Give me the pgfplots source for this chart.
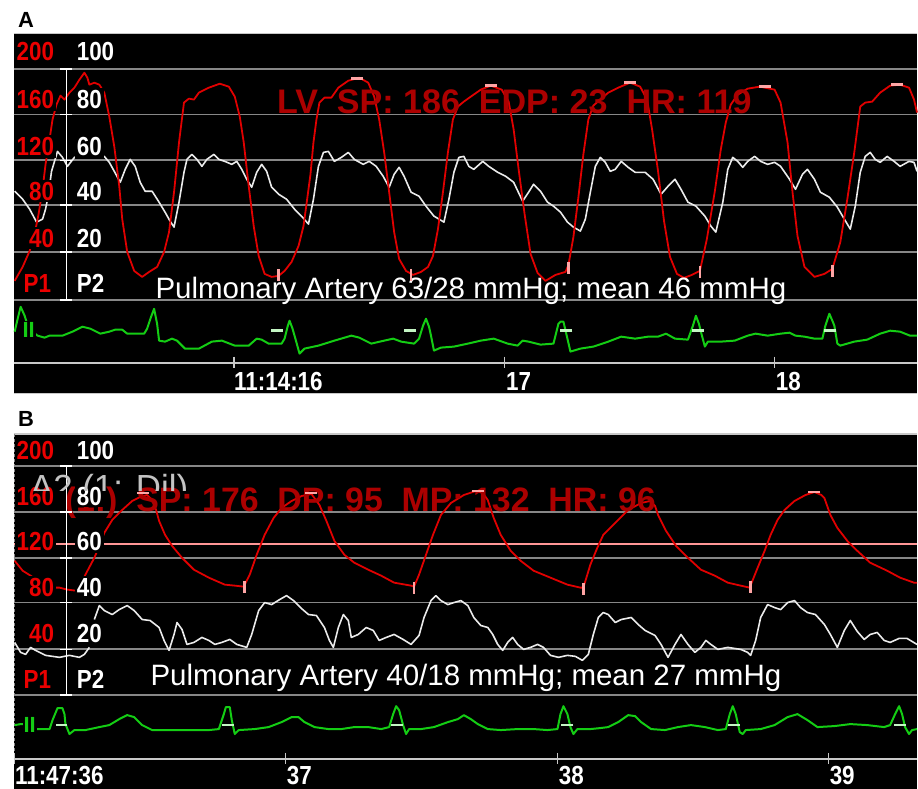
\documentclass[border=0pt]{standalone}
\usepackage{graphicx}
\usepackage{pgfplots}
\pgfplotsset{compat=1.18}
\usepackage{fontspec}
\setmainfont{Liberation Sans}
\definecolor{trred}{RGB}{225,0,0}
\definecolor{lblred}{RGB}{235,0,0}
\definecolor{txtred}{RGB}{172,0,0}
\definecolor{pinkm}{RGB}{255,165,165}
\definecolor{pinkline}{RGB}{255,150,150}
\definecolor{trwhite}{RGB}{235,235,235}
\definecolor{ecg}{RGB}{20,205,20}
\definecolor{ecgm}{RGB}{195,245,195}
\definecolor{gridgray}{RGB}{135,135,135}
\definecolor{axgray}{RGB}{200,200,200}
\definecolor{ghost}{RGB}{195,195,195}
\newcommand\lblfont{\fontsize{12.5}{13}\selectfont\bfseries}
\newcommand\lab[1]{\scalebox{0.9}[1.05]{#1}}
\pgfplotsset{mon/.style={
  scale only axis, width=453.5pt, xmin=11, xmax=918, y dir=reverse,
  axis background/.style={fill=black},
  axis line style={draw=none},
  xtick=\empty, yticklabels={}, major tick length=0pt,
  ytick style={draw=none},
  ymajorgrids, grid style={line width=0.9pt, color=gridgray},
  clip=false, anchor=north west}}
\begin{document}
\begin{tikzpicture}
\fill[white] (0,0) rectangle (459pt,-396pt);
\node[anchor=base west, inner sep=0, font=\fontsize{11}{12}\selectfont\bfseries] at (7.5pt,-14pt) {A};
\node[anchor=base west, inner sep=0, font=\fontsize{11}{12}\selectfont\bfseries] at (7.5pt,-214pt) {B};
% ================= PANEL A =================
\begin{axis}[mon, at={(5.5pt,-16.5pt)}, height=181pt, ymin=33, ymax=395,
  ytick={69,115,161,206,253,301}]
\draw[axgray, line width=0.8pt] (axis cs:11,33.5) -- (axis cs:918,33.5);
\draw[axgray, line width=0.8pt] (axis cs:11,395) -- (axis cs:918,395);
% time axis
\draw[axgray, line width=1pt] (axis cs:11,364) -- (axis cs:918,364);
\draw[axgray, line width=0.8pt] (axis cs:232,358) -- (axis cs:232,369);
\draw[axgray, line width=0.8pt] (axis cs:504,358) -- (axis cs:504,369);
\draw[axgray, line width=0.8pt] (axis cs:775,358) -- (axis cs:775,369);
% P2 (pulmonary artery), white
\addplot[trwhite, line width=0.8pt, line join=round] coordinates {
(12,192) (20,200) (27,210) (34,223) (40,220) (43,210) (46,195) (49,172) (52,162) (55,152) (60,158) (65,167) (72,158) (80,155) (90,155) (97,156)
(102,157) (107,163) (112,172) (118,183) (123,170) (128,160) (133,167) (138,183) (143,192) (150,192) (157,203) (163,213) (168,222) (172,228)
(177,203) (182,173) (185,160) (190,155) (195,160) (200,167) (205,160) (212,155) (217,160) (223,162) (230,165) (235,162) (240,170) (245,180)
(250,188) (255,173) (260,165) (265,172) (270,188) (277,195) (285,200) (293,210) (300,217) (307,225) (312,200) (317,167) (322,153) (327,152)
(333,162) (340,158) (347,153) (353,160) (362,165) (368,162) (375,167) (382,177) (388,188) (393,175) (398,168) (403,177) (410,193) (418,197)
(425,207) (433,217) (443,223) (448,200) (453,173) (458,158) (463,157) (468,167) (473,170) (482,162) (488,167) (497,173) (505,177) (513,183)
(522,202) (528,193) (533,185) (540,192) (547,203) (553,207) (560,213) (567,223) (573,228) (580,232) (585,220) (590,193) (595,167) (600,158)
(605,163) (610,172) (615,170) (621,162) (628,168) (635,173) (645,173) (653,180) (661,195) (668,187) (675,180) (681,190) (688,203) (696,207)
(705,217) (711,227) (716,233) (723,203) (728,170) (733,158) (738,162) (743,168) (748,162) (755,157) (761,162) (768,165) (775,163) (781,167)
(790,180) (796,190) (803,175) (808,170) (815,180) (821,193) (830,198) (838,208) (845,220) (851,230) (856,207) (861,173) (866,157) (871,153)
(876,160) (881,163) (888,157) (895,162) (901,167) (910,162) (915,163) (918,172)};
% P1 (left ventricle), red
\addplot[trred, line width=0.9pt, line join=round] coordinates {
(12,282) (20,268) (27,252) (32,235) (36,215) (40,190) (43,165) (47,140) (50,120) (54,105) (58,96) (62,100) (67,93) (72,88) (77,80) (82,73)
(85,78) (87,85) (92,83) (97,85) (102,93) (107,117) (112,147) (117,187) (120,220) (125,253) (132,272) (140,278) (147,273) (155,268) (162,253)
(167,233) (172,193) (177,143) (182,103) (187,99) (192,100) (197,93) (207,88) (218,84) (227,87) (233,97) (238,117) (242,143) (247,187)
(252,227) (257,257) (263,275) (270,278) (277,277) (283,272) (290,263) (297,247) (302,227) (305,205) (309,175) (312,143) (315,120) (318,103)
(323,98) (330,98) (337,88) (347,81) (358,78) (367,83) (373,97) (378,120) (383,153) (388,193) (393,233) (398,260) (405,272) (412,276)
(420,273) (427,268) (432,257) (437,230) (442,193) (447,153) (452,120) (457,107) (463,102) (470,97) (480,90) (490,86) (501,90) (508,102)
(513,130) (518,170) (524,215) (530,255) (537,274) (545,282) (555,276) (565,273) (568,266) (573,238) (578,198) (583,155) (588,120) (593,106)
(600,100) (608,93) (618,88) (630,83) (640,87) (647,100) (652,130) (658,172) (664,222) (670,258) (677,275) (684,279) (692,276) (700,272)
(707,240) (715,192) (721,150) (726,123) (731,105) (738,95) (748,89) (760,87) (775,90) (781,103) (788,143) (793,193) (798,237) (805,268)
(815,278) (825,275) (833,270) (841,243) (848,200) (855,153) (861,107) (866,103) (873,102) (881,93) (891,86) (901,85) (910,88) (915,100) (918,113)};
% ECG lead II
\addplot[ecg, line width=1pt, line join=round] coordinates {
(12,333) (15,320) (18,308) (22,317) (26,330) (35,337) (42,339) (47,337) (60,337) (70,333) (80,328) (88,330) (98,335) (107,333) (113,331)
(120,331) (125,335) (142,335) (145,330) (149,318) (152,310) (155,325) (157,342) (163,343) (170,340) (175,342) (183,350) (197,350) (210,343)
(220,342) (233,347) (247,347) (255,340) (260,341) (267,345) (280,345) (283,340) (286,328) (288,322) (291,330) (293,337) (298,355) (303,350)
(317,347) (333,342) (350,337) (358,339) (370,345) (383,342) (392,340) (400,343) (413,345) (418,340) (422,327) (425,320) (428,328) (430,337)
(433,352) (440,349) (453,348) (467,345) (480,342) (493,340) (507,345) (517,347) (522,342) (528,343) (540,346) (553,345) (558,325) (560,323)
(563,323) (567,340) (570,353) (580,350) (593,348) (608,343) (621,338) (635,340) (648,338) (658,338) (666,335) (675,340) (688,341) (693,327)
(696,317) (699,325) (701,333) (705,348) (708,343) (721,343) (735,342) (748,337) (756,335) (768,337) (781,335) (790,334) (796,337) (805,338)
(815,340) (823,340) (826,327) (830,315) (833,322) (835,327) (838,345) (841,347) (855,343) (868,341) (881,335) (891,332) (901,333) (911,337) (918,337)};
% markers
\addplot[only marks, mark=-, mark size=3pt, pinkm, mark options={line width=1.4pt}] coordinates {(356,79) (490,86) (630,83) (765,87) (898,85)};
\addplot[only marks, mark=|, mark size=3pt, pinkm, mark options={line width=1.4pt}] coordinates {(277,276) (410,276) (568,269) (700,273) (833,272)};
\addplot[only marks, mark=-, mark size=3pt, ecgm, mark options={line width=1.3pt}] coordinates {(275,332) (409,332) (566,332) (698,332) (831,332)};
% texts
\node[anchor=base west, inner sep=0, text=txtred, font=\fontsize{17.1}{18}\selectfont\bfseries] at (axis cs:275,114) {LV\ \ SP: 186\ \ EDP: 23\ \ HR: 119};
\node[anchor=base west, inner sep=0, text=white, font=\fontsize{14.8}{15}\selectfont] at (axis cs:153,300) {Pulmonary Artery 63/28 mmHg; mean 46 mmHg};
% scale labels
\node[anchor=east, fill=black, inner sep=1pt, text=lblred, font=\lblfont] at (axis cs:54,52) {\lab{200}};
\node[anchor=east, fill=black, inner sep=1pt, text=lblred, font=\lblfont] at (axis cs:54,100) {\lab{160}};
\node[anchor=east, fill=black, inner sep=1pt, text=lblred, font=\lblfont] at (axis cs:54,147) {\lab{120}};
\node[anchor=east, fill=black, inner sep=1pt, text=lblred, font=\lblfont] at (axis cs:54,192) {\lab{80}};
\node[anchor=east, fill=black, inner sep=1pt, text=lblred, font=\lblfont] at (axis cs:54,239) {\lab{40}};
\node[anchor=east, fill=black, inner sep=1pt, text=lblred, font=\lblfont] at (axis cs:51,285) {\lab{P1}};
\node[anchor=west, fill=black, inner sep=1pt, text=white, font=\lblfont] at (axis cs:72,52) {\lab{100}};
\node[anchor=west, fill=black, inner sep=1pt, text=white, font=\lblfont] at (axis cs:72,100) {\lab{80}};
\node[anchor=west, fill=black, inner sep=1pt, text=white, font=\lblfont] at (axis cs:72,147) {\lab{60}};
\node[anchor=west, fill=black, inner sep=1pt, text=white, font=\lblfont] at (axis cs:72,192) {\lab{40}};
\node[anchor=west, fill=black, inner sep=1pt, text=white, font=\lblfont] at (axis cs:72,239) {\lab{20}};
\node[anchor=west, fill=black, inner sep=1pt, text=white, font=\lblfont] at (axis cs:72,285) {\lab{P2}};
\node[fill=black, inner sep=0.5pt, text=ecg, font=\fontsize{11}{12}\selectfont\bfseries] at (axis cs:26,331) {II};
% scale bar
\draw[white, line width=0.8pt] (axis cs:64,69) -- (axis cs:64,301);
\draw[white, line width=0.8pt] (axis cs:58,69) -- (axis cs:70,69);
\draw[white, line width=0.8pt] (axis cs:58,115) -- (axis cs:70,115);
\draw[white, line width=0.8pt] (axis cs:58,161) -- (axis cs:70,161);
\draw[white, line width=0.8pt] (axis cs:58,206) -- (axis cs:70,206);
\draw[white, line width=0.8pt] (axis cs:58,253) -- (axis cs:70,253);
\draw[white, line width=0.8pt] (axis cs:58,301) -- (axis cs:70,301);
% time labels
\node[anchor=base west, inner sep=0, text=white, font=\lblfont] at (axis cs:232,392) {\lab{11:14:16}};
\node[anchor=base west, inner sep=0, text=white, font=\lblfont] at (axis cs:505,392) {\lab{17}};
\node[anchor=base west, inner sep=0, text=white, font=\lblfont] at (axis cs:776,392) {\lab{18}};
\end{axis}
% ================= PANEL B =================
\begin{axis}[mon, at={(5.5pt,-217.5pt)}, height=178.5pt, ymin=435, ymax=792,
  ytick={468,514,560,605,652,698}]
\draw[axgray, line width=0.8pt] (axis cs:11,435.5) -- (axis cs:918,435.5);
\draw[gridgray, line width=0.7pt, dash pattern=on 1.5pt off 1pt] (axis cs:12,436) -- (axis cs:12,762);
\draw[pinkline, line width=0.9pt] (axis cs:11,546) -- (axis cs:918,546);
% time axis
\draw[axgray, line width=1pt] (axis cs:11,762) -- (axis cs:918,762);
\draw[axgray, line width=0.8pt] (axis cs:12,756) -- (axis cs:12,767);
\draw[axgray, line width=0.8pt] (axis cs:284,756) -- (axis cs:284,767);
\draw[axgray, line width=0.8pt] (axis cs:557,756) -- (axis cs:557,767);
\draw[axgray, line width=0.8pt] (axis cs:829,756) -- (axis cs:829,767);
% P2 white
\addplot[trwhite, line width=0.8pt, line join=round] coordinates {
(12,645) (18,655) (23,657) (28,650) (33,653) (43,658) (57,660) (67,658) (77,660) (82,657) (87,650)};
\addplot[trwhite, line width=0.8pt, line join=round] coordinates {
(92,622) (97,608) (102,613) (110,617) (117,612) (125,608) (132,613) (140,622) (148,623) (157,630) (162,643) (167,653) (172,637) (175,625)
(180,632) (185,647) (192,645) (200,640) (207,643) (213,647) (220,645) (228,642) (235,647) (245,650) (250,637) (257,613) (263,605) (270,607)
(278,602) (285,598) (292,603) (300,611) (307,617) (315,618) (323,630) (328,643) (332,650) (337,630) (342,617) (347,623) (350,640) (357,637)
(365,630) (372,633) (378,643) (385,640) (393,637) (402,642) (410,647) (418,638) (423,620) (430,603) (435,598) (440,603) (447,607) (453,605)
(460,603) (467,608) (473,620) (480,628) (487,630) (492,637) (497,647) (502,653) (507,645) (512,640) (517,647) (523,652) (530,650) (537,647)
(543,650) (550,658) (558,660) (567,658) (575,659) (582,663) (588,657) (593,637) (598,620) (603,615) (608,617) (615,625) (621,622) (631,620)
(638,627) (645,633) (655,638) (661,647) (668,660) (675,647) (681,637) (688,647) (695,655) (701,650) (706,643) (711,647) (718,652) (728,650)
(741,652) (748,655) (751,658) (756,643) (761,620) (768,607) (775,610) (781,612) (788,605) (795,603) (801,610) (808,615) (816,617) (825,627)
(831,637) (838,650) (845,633) (851,623) (858,634) (865,642) (871,637) (878,635) (885,643) (891,645) (900,641) (908,641) (918,647)};
% P1 red (aortic)
\addplot[trred, line width=0.9pt, line join=round] coordinates {
(12,563) (20,573) (28,578) (40,586) (50,590) (57,590) (65,592) (73,593) (78,588) (83,577) (92,560) (97,548) (102,535) (110,522) (120,512)
(130,503) (138,499) (145,497) (150,502) (154,512) (157,523) (163,537) (170,548) (180,560) (192,572) (207,580) (223,587) (233,588) (242,589)
(248,577) (255,557) (263,537) (272,520) (280,510) (290,503) (300,498) (310,496) (318,507) (325,523) (333,543) (343,557) (353,565) (367,572)
(380,578) (393,585) (410,588) (413,589) (418,577) (425,557) (432,537) (440,517) (450,505) (463,497) (475,493) (482,495) (487,502) (493,520)
(500,537) (510,553) (520,563) (533,573) (550,580) (567,587) (580,590) (583,590) (590,567) (597,550) (603,537) (610,530) (618,522) (628,512)
(641,505) (650,503) (655,508) (658,517) (666,533) (676,548) (688,560) (701,572) (715,578) (728,585) (741,588) (750,590) (758,570) (765,553)
(771,537) (778,522) (785,512) (795,503) (806,497) (815,494) (822,497) (825,500) (831,517) (838,530) (848,543) (858,553) (871,565) (888,573)
(901,580) (915,585) (918,585)};
% ECG
\addplot[ecg, line width=1pt, line join=round] coordinates {
(12,728) (18,727) (22,727) (33,732) (47,732) (50,723) (55,711) (60,711) (62,717) (63,727) (67,737) (72,733) (83,733) (97,730) (107,728)
(117,722) (125,718) (132,720) (140,728) (150,733) (167,733) (183,733) (207,733) (217,732) (222,717) (224,710) (228,710) (230,723) (233,737)
(237,733) (253,732) (267,730) (280,725) (290,720) (297,720) (303,725) (313,730) (327,732) (340,732) (353,730) (367,730) (380,732) (388,730)
(392,717) (395,709) (398,713) (402,728) (405,737) (408,732) (420,732) (433,730) (447,725) (457,722) (463,718) (470,722) (477,727) (487,732)
(500,733) (517,732) (533,732) (547,733) (557,732) (560,717) (563,709) (567,717) (570,730) (573,737) (577,732) (590,732) (600,731) (608,730)
(618,725) (628,718) (635,719) (641,725) (651,732) (665,733) (678,730) (691,728) (705,730) (718,733) (726,732) (730,717) (733,709) (736,717)
(740,735) (743,737) (746,733) (761,732) (775,728) (788,720) (798,717) (808,723) (818,730) (835,729) (851,727) (868,728) (885,730) (891,728)
(896,717) (900,709) (903,717) (906,730) (910,737) (913,733) (918,732)};
% markers
\addplot[only marks, mark=-, mark size=3pt, pinkm, mark options={line width=1.4pt}] coordinates {(141,495) (310,495) (477,493) (815,494)};
\addplot[only marks, mark=|, mark size=3pt, pinkm, mark options={line width=1.4pt}] coordinates {(243,589) (413,590) (583,591) (751,589)};
\addplot[only marks, mark=-, mark size=3pt, ecgm, mark options={line width=1.3pt}] coordinates {(59,728) (226,728) (396,728) (567,728) (734,728) (901,728)};
% texts
\node[anchor=base west, inner sep=0, text=txtred, font=\fontsize{17}{18}\selectfont\bfseries] at (axis cs:62,514) {(1:)\ \ SP: 176\ \ DP: 95\ \ MP: 132\ \ HR: 96};
\node[anchor=base west, inner sep=0, text=white, font=\fontsize{14.8}{15}\selectfont] at (axis cs:148,688) {Pulmonary Artery 40/18 mmHg; mean 27 mmHg};
% scale labels
\node[anchor=east, fill=black, inner sep=1pt, text=lblred, font=\lblfont] at (axis cs:54,452) {\lab{200}};
\node[anchor=east, fill=black, inner sep=1pt, text=lblred, font=\lblfont] at (axis cs:54,498) {\lab{160}};
\node[anchor=east, fill=black, inner sep=1pt, text=lblred, font=\lblfont] at (axis cs:54,544) {\lab{120}};
\node[anchor=east, fill=black, inner sep=1pt, text=lblred, font=\lblfont] at (axis cs:54,590) {\lab{80}};
\node[anchor=east, fill=black, inner sep=1pt, text=lblred, font=\lblfont] at (axis cs:54,636) {\lab{40}};
\node[anchor=east, fill=black, inner sep=1pt, text=lblred, font=\lblfont] at (axis cs:51,682) {\lab{P1}};
\node[anchor=west, fill=black, inner sep=1pt, text=white, font=\lblfont] at (axis cs:72,452) {\lab{100}};
\node[anchor=west, fill=black, inner sep=1pt, text=white, font=\lblfont] at (axis cs:72,498) {\lab{80}};
\node[anchor=west, fill=black, inner sep=1pt, text=white, font=\lblfont] at (axis cs:72,544) {\lab{60}};
\node[anchor=west, fill=black, inner sep=1pt, text=white, font=\lblfont] at (axis cs:72,590) {\lab{40}};
\node[anchor=west, fill=black, inner sep=1pt, text=white, font=\lblfont] at (axis cs:72,636) {\lab{20}};
\node[anchor=west, fill=black, inner sep=1pt, text=white, font=\lblfont] at (axis cs:72,682) {\lab{P2}};
\node[fill=black, inner sep=0.5pt, text=ecg, font=\fontsize{11}{12}\selectfont\bfseries] at (axis cs:27,728) {II};
% scale bar
\draw[white, line width=0.8pt] (axis cs:64,468) -- (axis cs:64,698);
\draw[white, line width=0.8pt] (axis cs:58,468) -- (axis cs:70,468);
\draw[white, line width=0.8pt] (axis cs:58,514) -- (axis cs:70,514);
\draw[white, line width=0.8pt] (axis cs:58,560) -- (axis cs:70,560);
\draw[white, line width=0.8pt] (axis cs:58,605) -- (axis cs:70,605);
\draw[white, line width=0.8pt] (axis cs:58,652) -- (axis cs:70,652);
\draw[white, line width=0.8pt] (axis cs:58,698) -- (axis cs:70,698);
% time labels
\node[anchor=base west, inner sep=0, text=white, font=\lblfont] at (axis cs:12,788) {\lab{11:47:36}};
\node[anchor=base west, inner sep=0, text=white, font=\lblfont] at (axis cs:285,788) {\lab{37}};
\node[anchor=base west, inner sep=0, text=white, font=\lblfont] at (axis cs:558,788) {\lab{38}};
\node[anchor=base west, inner sep=0, text=white, font=\lblfont] at (axis cs:830,788) {\lab{39}};
\end{axis}
% ghost channel label (partly hidden)
\begin{scope}
\clip (10pt,-230pt) rectangle (150pt,-246pt);
\node[anchor=base west, inner sep=0, text=ghost, font=\fontsize{17.5}{18}\selectfont] at (13.5pt,-251pt) {A2 (1: Dil)};
\end{scope}
\end{tikzpicture}
\end{document}
